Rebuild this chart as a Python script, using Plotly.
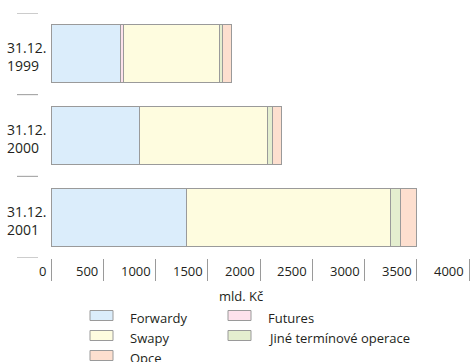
import plotly.graph_objects as go

# ---- data ----
categories = ["31.12.<br>1999", "31.12.<br>2000", "31.12.<br>2001"]
forwardy = [663, 845, 1299]
futures = [29, 0, 0]
swapy = [925, 1225, 1952]
jine = [22, 45, 96]
opce = [93, 86, 146]
series_names = ["Forwardy", "Futures", "Swapy", "Jiné termínové operace", "Opce"]
series_colors = ["#dbedfb", "#fde2ec", "#fefcdf", "#e4eecf", "#fddfcf"]
tick_values = [0, 500, 1000, 1500, 2000, 2500, 3000, 3500, 4000]
x_title = "mld. Kč"

FONT = "Open Sans, sans-serif"
FS = 13
TXT = "#231f20"
EDGE = "#9a9a9a"

W, H = 472, 362
ML, MR, MT, MB = 51, 3, 13, 104
PW = W - ML - MR
PH = H - MT - MB
PBOT = MT + PH


def px_x(p):
    return (p - ML) / PW


def px_y(p):
    return (PBOT - p) / PH


values = [forwardy, futures, swapy, jine, opce]

fig = go.Figure()
for name, col, vals in zip(series_names, series_colors, values):
    fig.add_trace(go.Bar(
        y=categories, x=vals, name=name, orientation="h",
        marker=dict(color=col, line=dict(color=EDGE, width=1)),
        showlegend=False,
    ))

# category separator lines (left of labels)
for b in [-0.5, 0.5, 1.5, 2.5]:
    fig.add_shape(type="line", xref="paper", yref="y",
                  x0=px_x(17), x1=px_x(38), y0=b, y1=b,
                  line=dict(color=EDGE, width=1))

annotations = []
# category labels, left-aligned
for cat in categories:
    annotations.append(dict(
        x=px_x(5), xref="paper", y=cat, yref="y", text=cat,
        showarrow=False, xanchor="left", yanchor="middle", align="left",
        yshift=-3, font=dict(family=FONT, size=14, color=TXT)))

# x tick labels placed to the left of the tick marks
for v in tick_values:
    annotations.append(dict(
        x=v, xref="x", y=px_y(270.5), yref="paper", text=str(v),
        showarrow=False, xanchor="right", yanchor="middle", xshift=-3,
        font=dict(family=FONT, size=FS, color=TXT)))

annotations.append(dict(
    x=px_x(241), xref="paper", y=px_y(295.5), yref="paper", text=x_title,
    showarrow=False, xanchor="center", yanchor="middle",
    font=dict(family=FONT, size=FS, color=TXT)))

# custom legend: column-major, 3 rows
legend_order = ["Forwardy", "Swapy", "Opce", "Futures", "Jiné termínové operace"]
col_x = [90, 228]
row_y = [315.5, 335.5, 355.5]
for i, name in enumerate(legend_order):
    c, r = divmod(i, 3)
    col = series_colors[series_names.index(name)]
    x0 = col_x[c]
    yc = row_y[r]
    fig.add_shape(type="rect", xref="paper", yref="paper",
                  x0=px_x(x0), x1=px_x(x0 + 23), y0=px_y(yc - 5), y1=px_y(yc + 5),
                  fillcolor=col, line=dict(color=EDGE, width=1))
    annotations.append(dict(
        x=px_x(x0 + 38), xref="paper", y=px_y(yc + 2.5), yref="paper", text=name,
        showarrow=False, xanchor="left", yanchor="middle",
        font=dict(family=FONT, size=FS, color=TXT)))

fig.update_layout(
    width=W, height=H,
    margin=dict(l=ML, r=MR, t=MT, b=MB, pad=0),
    barmode="stack", bargap=0.29,
    paper_bgcolor="white", plot_bgcolor="white",
    font=dict(family=FONT, size=FS, color=TXT),
    annotations=annotations,
    xaxis=dict(range=[0, 4000], tickvals=tick_values, showticklabels=False,
               ticks="outside", ticklen=22, tickcolor=EDGE, tickwidth=1,
               showgrid=False, zeroline=False, showline=False, fixedrange=True,
               automargin=False),
    yaxis=dict(categoryorder="array", categoryarray=categories,
               range=[2.5, -0.5], showgrid=False, zeroline=False, showline=False,
               ticks="", showticklabels=False, automargin=False, fixedrange=True),
)

fig.write_html("out.html", config={"displayModeBar": False},
               post_script="document.body.style.margin='0';")
